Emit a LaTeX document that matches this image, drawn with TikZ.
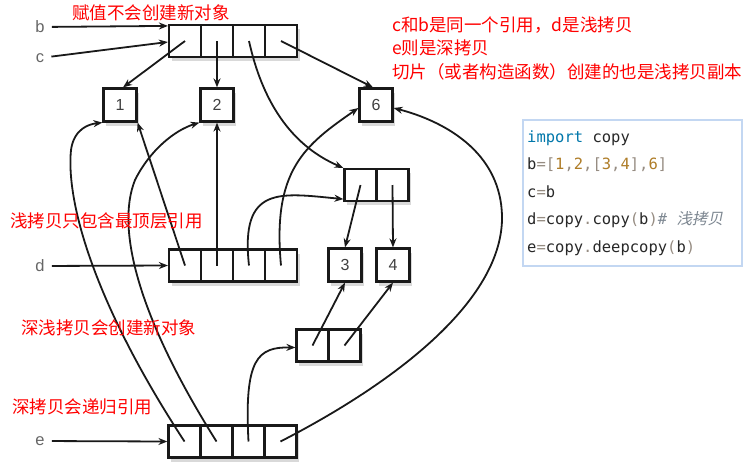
\documentclass[tikz,border=0pt]{standalone}
\usepackage{fontspec}
\setsansfont{Liberation Sans}
\setmonofont{DejaVu Sans Mono}
\newfontfamily\cjk{Noto Sans CJK SC}
\newfontfamily\cjkslant[FakeSlant=0.2]{Noto Sans CJK SC}
\usepackage{xcolor}
\usepackage{tikz}
\usetikzlibrary{arrows.meta, positioning, shadows}

\definecolor{ink}{RGB}{25,25,25}
\definecolor{kw}{RGB}{0,119,170}
\definecolor{numc}{RGB}{175,125,40}
\definecolor{punc}{RGB}{150,140,130}
\definecolor{cmt}{RGB}{125,135,145}
\definecolor{codeink}{RGB}{40,40,40}
\definecolor{glow}{RGB}{195,215,242}

\newcommand{\cpun}[1]{\textcolor{punc}{#1}}
\newcommand{\cnum}[1]{\textcolor{numc}{#1}}

\begin{document}
\begin{tikzpicture}[x=1pt, y=-1pt,
        cell/.style={draw=ink, line width=2.2pt, fill=white, minimum size=32pt, inner sep=0pt,
            drop shadow={shadow xshift=2.5pt, shadow yshift=-4pt, opacity=0.3}},
        val/.style={cell, minimum size=33pt, font=\sffamily\fontsize{16}{16}\selectfont, text=black!75},
        edge/.style={-{Stealth[length=9pt, width=7pt]}, line width=1.8pt, draw=ink},
        lbl/.style={font=\sffamily\fontsize{16.5}{16.5}\selectfont, text=black!60, inner sep=7pt},
        note/.style={font=\cjk\fontsize{17.5}{21}\selectfont, text=red, anchor=west, inner sep=0pt},
        code/.style={anchor=base west, inner sep=0pt, font=\ttfamily\fontsize{15.5}{18}\selectfont, text=codeink},
        codebox/.style={draw=glow, line width=2.5pt, fill=white, minimum width=219pt, minimum height=146pt}
    ]
        \useasboundingbox (0,0) rectangle (756,472);

        % Names
        \node[lbl] (lb) at (40,27) {b};
        \node[lbl] (lc) at (40,58) {c};
        \node[lbl] (ld) at (40,266) {d};
        \node[lbl] (le) at (40,441) {e};

        % Lists
        \node[cell] (b1) at (185,41) {};
        \node[cell] (b2) at (217,41) {};
        \node[cell] (b3) at (249,41) {};
        \node[cell] (b4) at (281,41) {};

        \node[cell] (d1) at (185,265.5) {};
        \node[cell] (d2) at (217,265.5) {};
        \node[cell] (d3) at (249,265.5) {};
        \node[cell] (d4) at (281,265.5) {};

        \node[cell] (e1) at (184.5,441.5) {};
        \node[cell] (e2) at (216.5,441.5) {};
        \node[cell] (e3) at (248.5,441.5) {};
        \node[cell] (e4) at (280.5,441.5) {};

        \node[cell] (sub1) at (360.5,185) {};
        \node[cell] (sub2) at (392.5,185) {};
        \node[cell] (esub1) at (312.5,345.5) {};
        \node[cell] (esub2) at (344.5,345.5) {};

        % Values
        \node[val] (v1) at (120,105) {1};
        \node[val] (v2) at (217,105) {2};
        \node[val] (v6) at (376,105) {6};
        \node[val] (v3) at (345,265) {3};
        \node[val] (v4) at (393,265) {4};

        % Edges
        \draw[edge] (lb) -- ([yshift=-2pt]b1.north west);
        \draw[edge] (lc) -- ([yshift=-1pt]b1.west);
        \draw[edge] (ld) -- (d1.west);
        \draw[edge] (le) -- (e1.west);

        \draw[edge] (b1.center) -- ([xshift=3pt]v1.north);
        \draw[edge] (b2.center) -- (v2.north);
        \draw[edge] (b3.center) .. controls (262,100) and (290,145) .. (sub1.north west);
        \draw[edge] (b4.center) -- ([xshift=-3pt]v6.north);

        \draw[edge] (sub1.center) -- (v3.north);
        \draw[edge] (sub2.center) -- (v4.north);

        \draw[edge] (d1.center) -- (v1.south east);
        \draw[edge] (d2.center) -- (v2.south);
        \draw[edge] (d3.center) .. controls (240,185) and (280,193) .. ([yshift=3pt]sub1.south west);
        \draw[edge] (d4.center) .. controls (272,170) and (305,145) .. ([yshift=-3pt]v6.west);

        \draw[edge] (e1.center) .. controls (92,300) and (66,200) .. (71,150)
            .. controls (74,128) and (90,124) .. (v1.south west);
        \draw[edge] (e2.center) .. controls (140,320) and (115,230) .. (135,180)
            .. controls (150,150) and (175,130) .. (v2.south west);
        \draw[edge] (e3.center) .. controls (244,358) and (258,347) .. ([yshift=-2pt]esub1.west);
        \draw[edge] (e4.center) .. controls (400,380) and (500,300) .. (502,220)
            .. controls (503,150) and (440,120) .. ([yshift=-3pt]v6.east);

        \draw[edge] (esub1.center) -- (v3.south);
        \draw[edge] (esub2.center) -- (v4.south);

        % Notes
        \node[note] (n1) at (72,13) {赋值不会创建新对象};
        \node[note] (n2) at (392,25) {c和b是同一个引用，d是浅拷贝};
        \node[note] (n3) at (392,48) {e则是深拷贝};
        \node[note] (n4) at (392,72) {切片（或者构造函数）创建的也是浅拷贝副本};
        \node[note] (n5) at (10,221) {浅拷贝只包含最顶层引用};
        \node[note] (n6) at (21,328) {深浅拷贝会创建新对象};
        \node[note] (n7) at (12,407) {深拷贝会递归引用};

        % Code
        \node[codebox] (box) at (632.5,193) {};
        \node[code] (c1) at (527,142) {\textcolor{kw}{import} copy};
        \node[code] (c2) at (527,169.6) {b\cpun{=[}\cnum{1}\cpun{,}\cnum{2}\cpun{,[}\cnum{3}\cpun{,}\cnum{4}\cpun{],}\cnum{6}\cpun{]}};
        \node[code] (c3) at (527,197.2) {c\cpun{=}b};
        \node[code] (c4) at (527,224.8) {d\cpun{=}copy\cpun{.}copy\cpun{(}b\cpun{)}\textcolor{cmt}{\itshape\# {\cjkslant 浅拷贝}}};
        \node[code] (c5) at (527,252.4) {e\cpun{=}copy\cpun{.}deepcopy\cpun{(}b\cpun{)}};

    \end{tikzpicture}
\end{document}
